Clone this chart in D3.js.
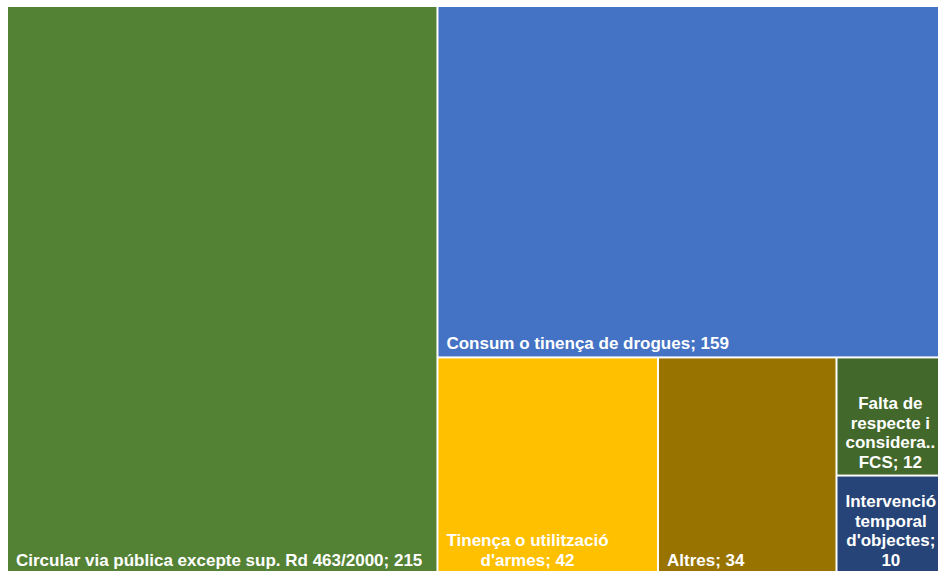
<!DOCTYPE html>
<html>
<head>
<meta charset="utf-8">
<script src="https://cdn.jsdelivr.net/npm/d3@7"></script>
<style>
  body { margin: 0; background: #fff; }
  svg { display: block; }
</style>
</head>
<body>
<div id="chart"></div>
<script>
// categories and counts
var names = [
  "Circular via pública excepte sup. Rd 463/2000",
  "Consum o tinença de drogues",
  "Tinença o utilització d'armes",
  "Altres",
  "Falta de respecte i consideració FCS",
  "Intervenció temporal d'objectes"
];
var values = [215, 159, 42, 34, 12, 10];
var colors = ["#548235", "#4472C4", "#FFC000", "#997300", "#43682B", "#264478"];

var w = 938, h = 571;
var offX = 8, offY = 7;
var fontSize = 17, lineH = 19.5, pad = 8;

var svg = d3.select("#chart").append("svg")
  .attr("width", w)
  .attr("height", h);

var root = d3.hierarchy({children: names.map(function(n, i) {
    return {name: n, value: values[i], color: colors[i]};
  })})
  .sum(function(d) { return d.value || 0; })
  .sort(function(a, b) { return b.value - a.value; });

d3.treemap()
  .tile(d3.treemapSquarify.ratio(1))
  .size([943, 566])
  .paddingInner(2)
  .round(false)(root);

var cell = svg.selectAll("g.cell")
  .data(root.leaves())
  .enter().append("g")
  .attr("class", "cell")
  .attr("transform", function(d) { return "translate(" + (offX + d.x0) + "," + (offY + d.y0) + ")"; });

cell.append("rect")
  .attr("width", function(d) { return d.x1 - d.x0; })
  .attr("height", function(d) { return d.y1 - d.y0; })
  .attr("fill", function(d) { return d.data.color; });

// labels: wrap inside the box, bottom-aligned, lines centred in their block
cell.each(function(d) {
  var g = d3.select(this);
  var bw = d.x1 - d.x0, bh = d.y1 - d.y0;
  var maxW = bw - 2 * pad;
  var txt = g.append("text")
    .attr("fill", "#fff")
    .style("font-family", "Arial, 'Liberation Sans', sans-serif")
    .style("font-weight", "bold")
    .style("font-size", fontSize + "px");
  var probe = txt.append("tspan");
  function width(s) { probe.text(s); return probe.node().getComputedTextLength(); }

  var words = (d.data.name + "; " + d.data.value).split(" ");
  var lines = [], cur = "";
  words.forEach(function(word) {
    var test = cur ? cur + " " + word : word;
    if (width(test) <= maxW || !cur) {
      cur = test;
    } else {
      lines.push(cur);
      cur = word;
    }
  });
  lines.push(cur);
  // truncate words that do not fit alone
  lines = lines.map(function(l) {
    if (width(l) <= maxW) return l;
    var s = l;
    while (s.length > 1 && width(s + "..") > maxW) s = s.slice(0, -1);
    return s + "..";
  });
  var blockW = d3.max(lines, function(l) { return width(l); });
  probe.remove();

  var multi = lines.length > 1;
  var cx = multi ? pad + blockW / 2 : pad;
  var lastY = bh - 7;
  lines.forEach(function(l, i) {
    txt.append("tspan")
      .attr("x", cx)
      .attr("y", lastY - (lines.length - 1 - i) * lineH)
      .attr("text-anchor", multi ? "middle" : "start")
      .text(l);
  });
});
</script>
</body>
</html>
